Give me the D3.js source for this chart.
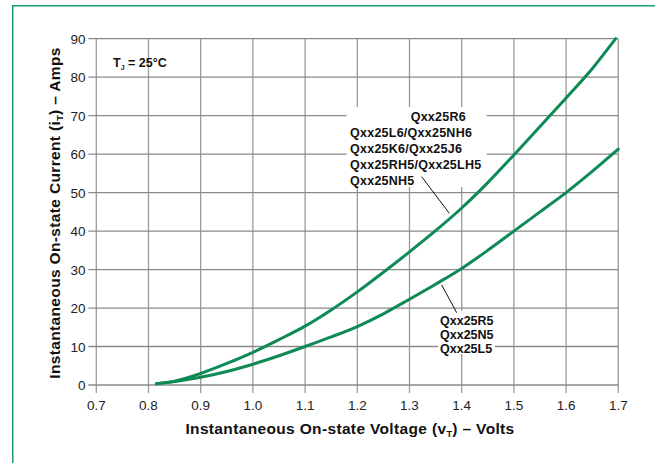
<!DOCTYPE html>
<html><head><meta charset="utf-8">
<script src="https://cdn.jsdelivr.net/npm/d3@7"></script>
<style>body{margin:0;background:#fff}svg{display:block;font-family:"Liberation Sans",Arial,sans-serif}</style>
</head><body><svg id="c" width="655" height="463"></svg>
<script>
const xTicks = [0.7,0.8,0.9,1.0,1.1,1.2,1.3,1.4,1.5,1.6,1.7];
const yTicks = [0,10,20,30,40,50,60,70,80,90];
const upperV = [0.815,0.85,0.9,0.95,1.0,1.05,1.1,1.15,1.2,1.25,1.3,1.35,1.4,1.45,1.5,1.55,1.6,1.65,1.695];
const upperI = [0.3,1.0,3.0,5.6,8.5,11.8,15.3,19.5,24.2,29.3,34.6,40.1,46.0,52.6,59.8,67.2,74.6,82.2,90];
const lowerV = [0.815,0.85,0.9,0.95,1.0,1.05,1.1,1.15,1.2,1.25,1.3,1.35,1.4,1.45,1.5,1.55,1.6,1.65,1.7];
const lowerI = [0.3,0.9,2.0,3.5,5.4,7.6,10.0,12.5,15.2,18.5,22.3,26.2,30.3,35.0,40.0,45.0,50.0,55.5,61.3];
const upperLabels = ["Qxx25R6","Qxx25L6/Qxx25NH6","Qxx25K6/Qxx25J6","Qxx25RH5/Qxx25LH5","Qxx25NH5"];
const lowerLabels = ["Qxx25R5","Qxx25N5","Qxx25L5"];

const svg = d3.select("#c");
const green = "#0e8a55";
svg.append("path").attr("d","M12.75,463 V5.75 H655").attr("fill","none").attr("stroke","#1f9a64").attr("stroke-width",1.5);

const x = d3.scaleLinear().domain([0.7,1.7]).range([96.3,618.3]);
const y = d3.scaleLinear().domain([0,90]).range([385,38.7]);
const g = svg.append("g");
g.selectAll(".vg").data(xTicks).enter().append("line")
 .attr("x1",d=>x(d)).attr("x2",d=>x(d)).attr("y1",y(90)).attr("y2",y(0)+8)
 .attr("stroke","#9a9a9a").attr("stroke-width",1.3);
g.selectAll(".hg").data(yTicks).enter().append("line")
 .attr("x1",x(0.7)-8).attr("x2",x(1.7)).attr("y1",d=>y(d)).attr("y2",d=>y(d))
 .attr("stroke","#8a8a8a").attr("stroke-width",1.3);
g.selectAll(".xl").data(xTicks).enter().append("text")
 .attr("x",d=>x(d)).attr("y",409.5).attr("text-anchor","middle")
 .attr("font-size",13.5).attr("fill","#222").text(d=>d.toFixed(1));
g.selectAll(".yl").data(yTicks).enter().append("text")
 .attr("x",85.5).attr("y",d=>y(d)+5).attr("text-anchor","end")
 .attr("font-size",13.5).attr("fill","#222").text(d=>d);

svg.append("rect").attr("x",346.7).attr("y",107).attr("width",140).attr("height",80).attr("fill","#fff");
svg.append("rect").attr("x",438).attr("y",311).attr("width",57).attr("height",43).attr("fill","#fff");

const line = d3.line().x(d=>x(d[0])).y(d=>y(d[1])).curve(d3.curveMonotoneX);
const up = upperV.map((v,i)=>[v,upperI[i]]);
const lo = lowerV.map((v,i)=>[v,lowerI[i]]);
[up,lo].forEach(dd=>svg.append("path").attr("d",line(dd)).attr("fill","none")
 .attr("stroke",green).attr("stroke-width",3).attr("stroke-linecap","round"));

svg.append("line").attr("x1",421.7).attr("y1",176.7).attr("x2",449.3).attr("y2",213.3).attr("stroke","#111").attr("stroke-width",1);
svg.append("line").attr("x1",441.7).attr("y1",285).attr("x2",456.7).attr("y2",312.7).attr("stroke","#111").attr("stroke-width",1);

const ut = svg.append("g").attr("font-size",12.5).attr("font-weight","bold").attr("fill","#111").attr("letter-spacing",0.25);
upperLabels.forEach((t,i)=>ut.append("text").attr("x",i===0?410.7:350).attr("y",121+i*16).text(t));
const lt = svg.append("g").attr("font-size",12.5).attr("font-weight","bold").attr("fill","#111");
lowerLabels.forEach((t,i)=>lt.append("text").attr("x",440).attr("y",324.5+i*14).text(t));

const tj = svg.append("text").attr("x",113).attr("y",67).attr("font-size",12.5).attr("font-weight","bold").attr("fill","#111");
tj.append("tspan").text("T");
tj.append("tspan").attr("font-size",7).attr("dy",3).text("J");
tj.append("tspan").attr("dy",-3).text(" = 25°C");

const xt = svg.append("text").attr("x",350).attr("y",433.5).attr("text-anchor","middle")
 .attr("font-size",15.5).attr("font-weight","bold").attr("fill","#111").attr("letter-spacing",0.35);
xt.append("tspan").text("Instantaneous On-state Voltage (v");
xt.append("tspan").attr("font-size",9).attr("dy",3).text("T");
xt.append("tspan").attr("dy",-3).text(") – Volts");
const yt = svg.append("text").attr("transform","translate(59.5,213) rotate(-90)").attr("text-anchor","middle")
 .attr("font-size",15.5).attr("font-weight","bold").attr("fill","#111").attr("letter-spacing",0.35);
yt.append("tspan").text("Instantaneous On-state Current (i");
yt.append("tspan").attr("font-size",9).attr("dy",3).text("T");
yt.append("tspan").attr("dy",-3).text(") – Amps");
</script></body></html>
